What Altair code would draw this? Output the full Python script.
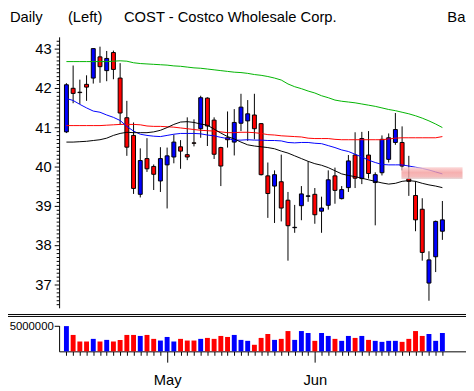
import altair as alt
import pandas as pd

# ---- data (57 trading days, Apr 9 - Jun 28) ----
opens = [40.88, 41.99, 41.89, 42.09, 42.25, 42.79, 42.44, 42.90, 42.25, 41.24,
         40.79, 39.29, 40.20, 40.00, 39.63, 40.04, 40.24, 40.50, 40.30, 40.60,
         40.96, 41.74, 41.18, 40.48, 40.73, 40.62, 41.10, 41.16, 41.31, 41.09,
         39.76, 39.50, 39.61, 39.14, 38.44, 39.00, 39.24, 39.29, 38.86, 39.01,
         39.76, 39.18, 39.46, 40.29, 39.69, 40.29, 39.59, 39.84, 40.18, 40.61,
         40.61, 39.69, 39.26, 38.91, 37.03, 37.70, 38.35]
highs = [42.12, 42.57, 42.21, 42.32, 43.00, 43.05, 42.94, 42.95, 42.63, 41.67,
         41.12, 40.46, 40.72, 40.05, 40.49, 40.48, 40.81, 40.67, 41.25, 41.20,
         41.80, 41.76, 41.25, 40.50, 41.40, 41.46, 41.85, 41.69, 41.85, 41.10,
         40.10, 39.90, 40.30, 39.35, 39.02, 39.50, 40.13, 39.45, 39.23, 39.90,
         39.97, 39.50, 40.29, 40.87, 40.88, 40.90, 39.85, 40.79, 40.84, 41.36,
         41.02, 40.27, 39.62, 39.19, 37.84, 38.62, 39.12]
lows = [40.85, 41.61, 41.59, 41.67, 42.11, 42.13, 42.17, 42.22, 41.06, 40.27,
        39.30, 39.21, 39.86, 39.40, 39.35, 38.93, 40.08, 39.94, 40.16, 40.51,
        40.73, 40.52, 40.19, 39.50, 40.48, 40.28, 40.90, 40.65, 40.69, 39.77,
        38.69, 38.56, 38.60, 37.60, 38.31, 38.63, 39.10, 38.54, 38.31, 38.90,
        39.05, 39.16, 39.35, 39.45, 39.55, 39.69, 38.50, 39.77, 40.10, 40.55,
        39.90, 39.25, 38.35, 37.60, 36.58, 37.31, 38.13]
closes = [42.08, 41.86, 41.88, 42.02, 43.00, 42.54, 42.75, 42.47, 41.36, 40.49,
          39.44, 40.15, 39.94, 39.80, 40.20, 40.27, 40.62, 40.39, 40.24, 40.59,
          41.75, 41.03, 40.31, 40.01, 40.68, 41.12, 41.51, 41.34, 40.96, 39.79,
          39.31, 39.79, 38.94, 38.49, 38.45, 39.30, 39.25, 38.77, 38.94, 39.66,
          39.39, 39.41, 40.14, 39.70, 40.71, 39.82, 39.79, 40.69, 40.73, 40.94,
          40.01, 39.62, 38.64, 37.81, 37.62, 38.60, 38.64]
volumes = [5000000, 3250000, 1950000, 1950000, 2470000, 1950000, 2270000, 1950000, 2270000, 3250000,
           3250000, 3050000, 3250000, 2470000, 2140000, 2850000, 1950000, 2470000, 2140000, 2140000,
           2470000, 2660000, 2470000, 3050000, 2850000, 3250000, 2270000, 2080000, 1300000, 2660000,
           3440000, 2270000, 2470000, 4020000, 2270000, 4020000, 3630000, 2080000, 3630000, 3050000,
           2470000, 2080000, 3050000, 2660000, 3050000, 2270000, 2080000, 1880000, 2080000, 2080000,
           1880000, 2470000, 4020000, 3050000, 3440000, 2080000, 3630000]
ma_green = [42.67, 42.67, 42.67, 42.67, 42.67, 42.67, 42.67, 42.68, 42.69, 42.68,
            42.64, 42.62, 42.61, 42.60, 42.59, 42.58, 42.56, 42.55, 42.53, 42.51,
            42.50, 42.48, 42.46, 42.44, 42.42, 42.40, 42.39, 42.37, 42.34, 42.32,
            42.29, 42.25, 42.20, 42.10, 42.03, 41.98, 41.92, 41.87, 41.80, 41.75,
            41.69, 41.66, 41.64, 41.62, 41.59, 41.56, 41.53, 41.49, 41.45, 41.42,
            41.38, 41.34, 41.29, 41.23, 41.16, 41.08, 40.99]
ma_red = [41.04, 41.04, 41.04, 41.04, 41.04, 41.04, 41.05, 41.06, 41.07, 41.07,
          41.07, 41.06, 41.03, 41.02, 41.02, 41.01, 41.00, 40.98, 40.96, 40.94,
          40.92, 40.91, 40.90, 40.88, 40.86, 40.86, 40.87, 40.87, 40.86, 40.84,
          40.81, 40.80, 40.78, 40.77, 40.76, 40.75, 40.72, 40.71, 40.71, 40.71,
          40.69, 40.68, 40.68, 40.68, 40.68, 40.68, 40.68, 40.68, 40.70, 40.72,
          40.73, 40.73, 40.73, 40.73, 40.73, 40.73, 40.76]
ma_blue = [41.73, 41.68, 41.58, 41.49, 41.41, 41.38, 41.31, 41.25, 41.17, 41.02,
           40.90, 40.82, 40.79, 40.77, 40.76, 40.79, 40.82, 40.84, 40.84, 40.84,
           40.83, 40.80, 40.78, 40.74, 40.71, 40.67, 40.67, 40.68, 40.67, 40.67,
           40.66, 40.66, 40.65, 40.61, 40.60, 40.61, 40.61, 40.59, 40.58, 40.53,
           40.48, 40.42, 40.38, 40.31, 40.24, 40.16, 40.10, 40.05, 40.04, 40.04,
           40.04, 40.01, 39.98, 39.95, 39.91, 39.86, 39.81]
ma_black = [40.62, 40.62, 40.63, 40.64, 40.66, 40.68, 40.72, 40.79, 40.84, 40.87,
            40.86, 40.86, 40.86, 40.88, 40.92, 40.99, 41.07, 41.13, 41.14, 41.12,
            41.08, 41.05, 40.95, 40.85, 40.76, 40.70, 40.62, 40.55, 40.52, 40.50,
            40.48, 40.45, 40.39, 40.34, 40.27, 40.20, 40.13, 40.07, 40.03, 39.97,
            39.89, 39.81, 39.77, 39.74, 39.70, 39.66, 39.62, 39.58, 39.55, 39.57,
            39.62, 39.64, 39.62, 39.57, 39.53, 39.50, 39.46]
month_pos = [16, 38]          # first trading day of May and June
month_names = ["May", "Jun"]
band_price = [39.68, 39.98]   # pink marker band at the right edge
band_index = [50.9, 60.0]
vol_tick = [5000000]

idx = list(range(1, len(opens) + 1))
df = pd.DataFrame({"i": idx, "open": opens, "high": highs, "low": lows,
                   "close": closes, "vol": volumes,
                   "g": ma_green, "r": ma_red, "b": ma_blue, "k": ma_black})
df["dir"] = ["up" if c > o else "down" for o, c in zip(opens, closes)]
band = pd.DataFrame({"x0": [band_index[0]], "x1": [band_index[1]],
                     "y0": [band_price[0]], "y1": [band_price[1]]})

W, H = 414, 320
NARROW = "Liberation Sans Narrow, Liberation Sans, Arial, sans-serif"
REG = "Liberation Sans, Arial, sans-serif"

x_scale = alt.Scale(domain=[0.6428571, 59.7857143], nice=False, zero=False)
month_test = " || ".join(f"datum.value == {p}" for p in month_pos)
month_expr = " : ".join(f"datum.value == {p} ? '{n}'" for p, n in zip(month_pos, month_names)) + " : ''"
x_axis = alt.Axis(values=idx, title=None, grid=False, domainColor="black",
                  tickColor="black", labelColor="black", labelFont=REG,
                  labelFontSize=15, labelAngle=0, labelOverlap=False, labelFlush=False,
                  labelPadding=11, labelExpr=month_expr,
                  tickSize={"condition": {"test": month_test, "value": 11}, "value": 4})

price_scale = alt.Scale(domain=[36.4, 43.3], range=[275.7, 0], nice=False, zero=False)
price_ticks = [round(36.5 + 0.1 * k, 1) for k in range(68)]
is_int = "abs(datum.value - round(datum.value)) < 0.01"
price_axis = alt.Axis(values=price_ticks, title=None, grid=False, orient="left",
                      domainColor="black", tickColor="black", labelColor="black",
                      labelFont=NARROW, labelFontSize=15, labelPadding=3,
                      labelOverlap=False, labelFlush=False,
                      labelExpr=f"{is_int} ? format(datum.value, '.0f') : ''",
                      tickSize={"condition": {"test": is_int, "value": 5}, "value": 3})

vol_scale = alt.Scale(domain=[0, 5100000], range=[320, 293.8], nice=False)
vol_axis = alt.Axis(values=vol_tick, title=None, grid=False, orient="left",
                    domainColor="black", tickColor="black", labelColor="black",
                    labelFont=REG, labelFontSize=11.5, labelPadding=1, tickSize=5,
                    format="d", labelFlush=False)

X = alt.X("i:Q", scale=x_scale, axis=x_axis, title=None)
color = alt.Color("dir:N", scale=alt.Scale(domain=["up", "down"], range=["#0000ff", "#ff0000"]),
                  legend=None)

def Yp(field):
    return alt.Y(field, type="quantitative", scale=price_scale, axis=price_axis, title=None)

base = alt.Chart(df)
wicks = base.mark_rule(color="black", strokeWidth=1).encode(x=X, y=Yp("low"), y2="high")
bodies = base.mark_bar(size=4, stroke="black", strokeWidth=1).encode(
    x=X, y=Yp("open"), y2="close", color=color)
lines = [base.mark_line(color=c, strokeWidth=1).encode(x=X, y=Yp(f))
         for f, c in [("g", "#00b400"), ("r", "#ff0000"), ("b", "#0000ff"), ("k", "#000000")]]
band_layer = alt.Chart(band).mark_rect(
    color=alt.LinearGradient(gradient="linear", x1=0, y1=0, x2=0, y2=1,
                             stops=[alt.GradientStop(offset=0, color="#fbd0d0"),
                                    alt.GradientStop(offset=0.45, color="#f49c9c"),
                                    alt.GradientStop(offset=0.8, color="#f2aaaa"),
                                    alt.GradientStop(offset=1, color="#ddcfcf")]),
    opacity=0.8).encode(
    x=alt.X("x0:Q", scale=x_scale, axis=x_axis, title=None), x2="x1",
    y=Yp("y0"), y2="y1")
price = alt.layer(wicks, bodies, *lines, band_layer)

vol = base.mark_bar(size=5).encode(
    x=X, y=alt.Y("vol:Q", scale=vol_scale, axis=vol_axis, title=None), color=color)

one = pd.DataFrame({"a": [0]})
seps = [alt.Chart(one).mark_rule(color="black", strokeWidth=1).encode(
    x=alt.value(-52), x2=alt.value(W), y=alt.value(yy)) for yy in (282.5, 284.5)]

headers = [("Daily", -50), ("(Left)", 9), ("COST - Costco Wholesale Corp.", 66), ("Ba", 395)]
texts = [alt.Chart(pd.DataFrame({"t": [t]})).mark_text(
    align="left", baseline="alphabetic", font=REG, fontSize=15, color="black").encode(
    text="t:N", x=alt.value(px), y=alt.value(-15)) for t, px in headers]

chart = alt.layer(price, vol, *seps, *texts).resolve_scale(y="independent").properties(
    width=W, height=H, background="white",
    padding={"left": 52, "top": 26, "right": 0, "bottom": 37},
    autosize=alt.AutoSizeParams(type="none"),
).configure_view(stroke=None)

chart.save("out.html", embed_options={"renderer": "svg", "actions": False})
